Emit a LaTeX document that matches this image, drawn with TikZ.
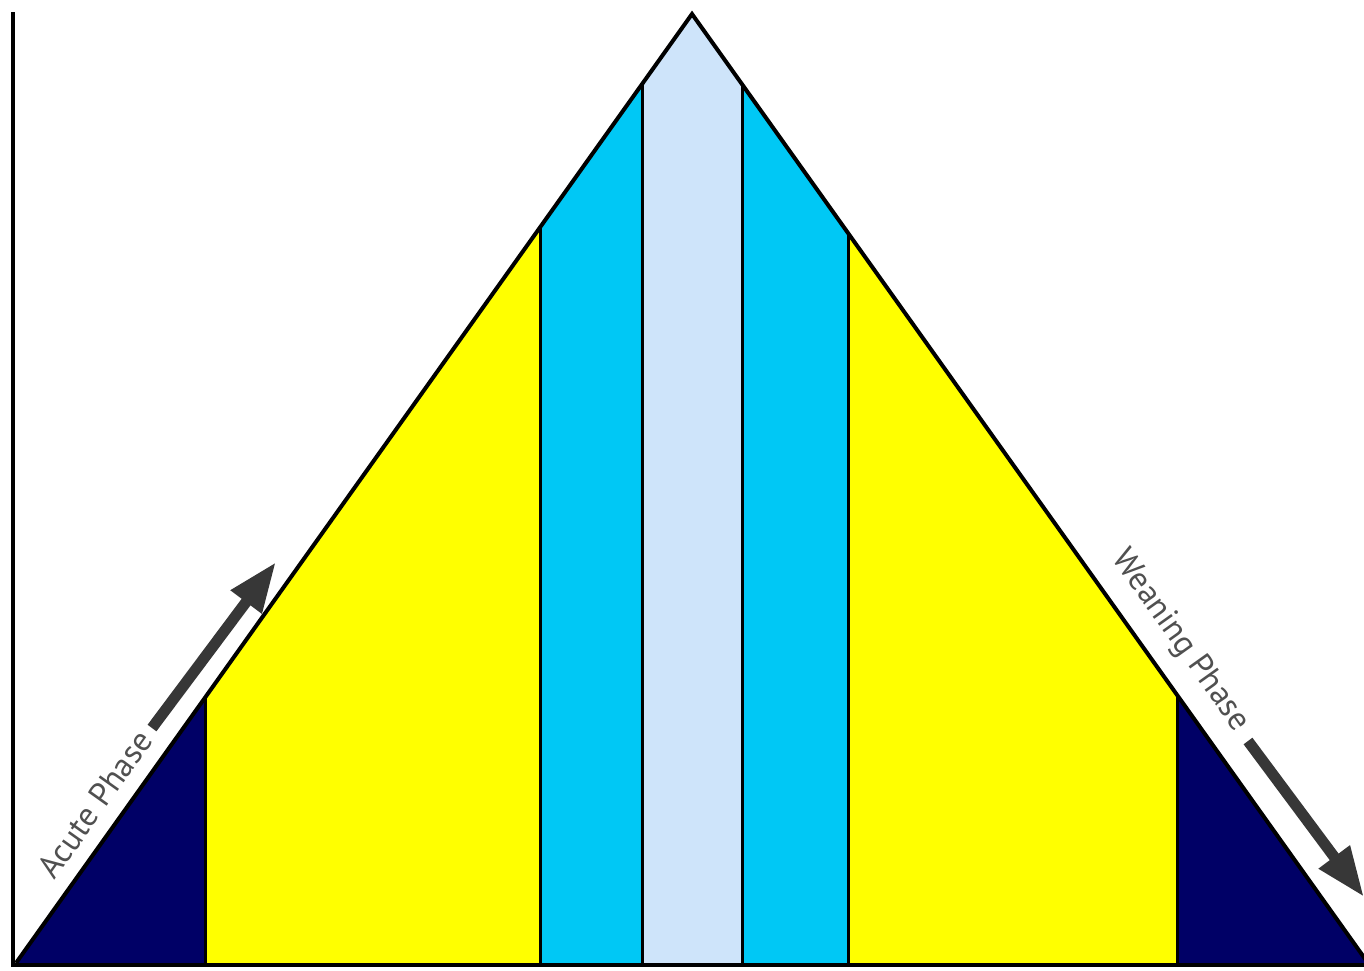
\documentclass[tikz,border=0pt]{standalone}
\usepackage{fontspec}
\setmainfont{PT Sans}
\usetikzlibrary{arrows.meta}
\definecolor{navyb}{RGB}{0,0,102}
\definecolor{yelb}{RGB}{255,255,0}
\definecolor{cyanb}{RGB}{0,200,245}
\definecolor{lightb}{RGB}{206,228,250}
\definecolor{txtgray}{RGB}{80,80,80}
\definecolor{arrgray}{RGB}{55,55,55}
\begin{document}
\begin{tikzpicture}[x=0.5pt,y=-0.5pt,
  band/.style={line width=1.5pt},
  outline/.style={line width=2pt, line join=miter},
  phasearrow/.style={draw=arrgray, line width=5.5pt, -{Triangle[length=25pt,width=18pt]}},
  phaselabel/.style={text=txtgray, font=\fontsize{16.5}{19}\selectfont, inner sep=0pt}]
\useasboundingbox (0,0) rectangle (1364,970);
\fill[white] (0,0) rectangle (1364,970);
\coordinate (apex) at (692,14);
\coordinate (bl) at (16,963);
\coordinate (br) at (1368,963);
\begin{scope}
  \clip (apex) -- (bl) -- (br) -- cycle;
  \fill[navyb] (0,0) rectangle (205,970);
  \fill[yelb] (205,0) rectangle (540,970);
  \fill[cyanb] (540,0) rectangle (642,970);
  \fill[lightb] (642,0) rectangle (742,970);
  \fill[cyanb] (742,0) rectangle (848,970);
  \fill[yelb] (848,0) rectangle (1177,970);
  \fill[navyb] (1177,0) rectangle (1370,970);
  \foreach \x in {205,540,642,742,848,1177} \draw[band] (\x,0) -- (\x,970);
\end{scope}
\draw[outline] (bl) -- (apex) -- (br);
\coordinate (ytop) at (13,12);
\coordinate (origin) at (13,965);
\coordinate (xend) at (1364,965);
\draw[line width=2pt] (ytop) -- (origin) -- (xend);
\coordinate (a1) at (152,728);
\coordinate (a2) at (276,562);
\draw[phasearrow] (a1) -- (a2);
\coordinate (w1) at (1248,741);
\coordinate (w2) at (1364,897);
\draw[phasearrow] (w1) -- (w2);
\node[phaselabel, rotate=54.5] (acute) at (95,804) {Acute Phase};
\node[phaselabel, rotate=-54.5] (weaning) at (1180,641) {Weaning Phase};
\end{tikzpicture}
\end{document}
